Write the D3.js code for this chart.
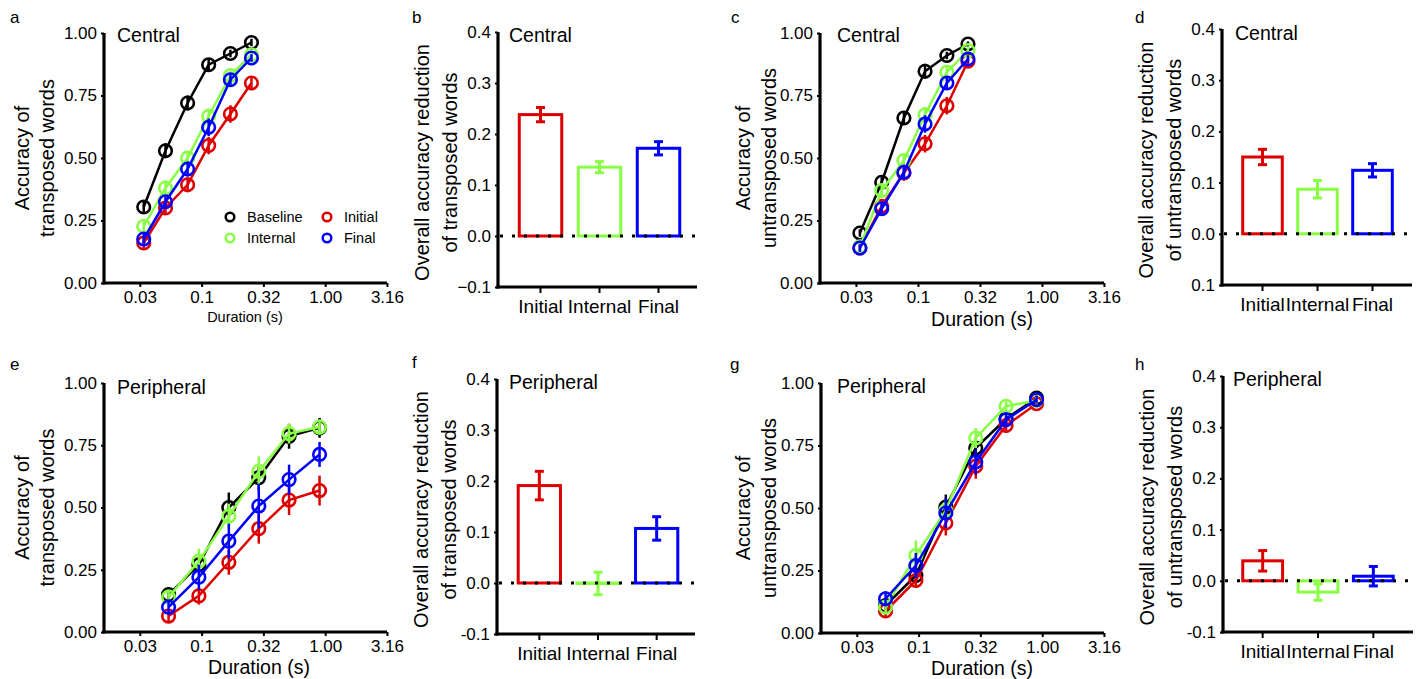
<!DOCTYPE html>
<html><head><meta charset="utf-8">
<script src="https://cdn.jsdelivr.net/npm/d3@7"></script>
<style>body{margin:0;background:#fff} text{font-family:"Liberation Sans",Arial,Helvetica,sans-serif;fill:#000}</style>
</head><body><svg id="c" width="1418" height="679"></svg>
<script>
// ---------- DATA ----------
const seriesNames = ["Baseline","Initial","Internal","Final"];
const seriesColors = ["#000000","#dd0000","#88ff44","#0000ff"];
const legendOrder = ["Baseline","Initial","Internal","Final"];

const xTickValues = [0.0316,0.1,0.316,1,3.16];
const xTickLabels = ["0.03","0.1","0.32","1.00","3.16"];
const accTickValues = [0,0.25,0.5,0.75,1];
const accTickLabels = ["0.00","0.25","0.50","0.75","1.00"];

const durCentral = [0.034,0.051,0.077,0.114,0.171,0.253];
const durPeripheral = [0.054,0.095,0.166,0.29,0.51,0.90];

// panel a: central, transposed
const aBaseline = [0.304,0.529,0.720,0.873,0.918,0.962];
const aInitial  = [0.160,0.300,0.393,0.550,0.676,0.800];
const aInternal = [0.227,0.380,0.500,0.667,0.830,0.913];
const aFinal    = [0.176,0.325,0.456,0.623,0.813,0.900];
const aBaselineErr = [0.02,0.03,0.03,0.025,0.015,0.015];
const aInitialErr  = [0.02,0.025,0.03,0.035,0.035,0.02];
const aInternalErr = [0.02,0.03,0.025,0.03,0.02,0.015];
const aFinalErr    = [0.02,0.02,0.03,0.035,0.02,0.015];

// panel c: central, untransposed
const cBaseline = [0.200,0.403,0.660,0.847,0.910,0.956];
const cInitial  = [0.140,0.307,0.440,0.557,0.709,0.887];
const cInternal = [0.145,0.370,0.490,0.673,0.843,0.930];
const cFinal    = [0.140,0.297,0.443,0.636,0.800,0.896];
const cBaselineErr = [0.015,0.02,0.025,0.03,0.015,0.01];
const cInitialErr  = [0.015,0.02,0.03,0.035,0.035,0.015];
const cInternalErr = [0.015,0.025,0.03,0.03,0.02,0.015];
const cFinalErr    = [0.015,0.02,0.03,0.035,0.025,0.015];

// panel e: peripheral, transposed
const eBaseline = [0.150,0.270,0.500,0.620,0.786,0.820];
const eInitial  = [0.064,0.145,0.280,0.415,0.530,0.568];
const eInternal = [0.140,0.285,0.465,0.645,0.797,0.823];
const eFinal    = [0.100,0.220,0.365,0.506,0.612,0.713];
const eBaselineErr = [0.03,0.03,0.06,0.05,0.05,0.04];
const eInitialErr  = [0.025,0.035,0.05,0.06,0.06,0.06];
const eInternalErr = [0.03,0.05,0.05,0.06,0.04,0.03];
const eFinalErr    = [0.03,0.05,0.07,0.09,0.06,0.05];

// panel g: peripheral, untransposed
const gBaseline = [0.110,0.230,0.504,0.740,0.857,0.940];
const gInitial  = [0.088,0.210,0.440,0.667,0.830,0.917];
const gInternal = [0.104,0.310,0.490,0.780,0.907,0.930];
const gFinal    = [0.137,0.270,0.480,0.684,0.853,0.933];
const gBaselineErr = [0.02,0.03,0.05,0.04,0.03,0.015];
const gInitialErr  = [0.02,0.03,0.05,0.05,0.03,0.015];
const gInternalErr = [0.02,0.06,0.04,0.04,0.02,0.015];
const gFinalErr    = [0.03,0.05,0.06,0.05,0.03,0.015];

// bar panels
const barCats = ["Initial","Internal","Final"];
const barColors = ["#dd0000","#88ff44","#0000ff"];
const redTickValues = [-0.1,0,0.1,0.2,0.3,0.4];
const bTickLabels = ["\u22120.1","0.0","0.1","0.2","0.3","0.4"];
const dTickLabels = ["0.1","0.0","0.1","0.2","0.3","0.4"];
const fTickLabels = ["-0.1","0.0","0.1","0.2","0.3","0.4"];
const hTickLabels = ["-0.1","0.0","0.1","0.2","0.3","0.4"];
const bValues = [0.238,0.135,0.172];  const bErr = [0.014,0.011,0.013];
const dValues = [0.150,0.087,0.124];  const dErr = [0.015,0.017,0.013];
const fValues = [0.191,-0.001,0.107]; const fErr = [0.028,0.022,0.023];
const hValues = [0.039,-0.022,0.009]; const hErr = [0.020,0.016,0.019];

// ---------- DRAWING ----------
const svg = d3.select("#c");
const FONT_TICK = 17, FONT_LAB = 20;

function letter(t,x,y){ svg.append("text").attr("x",x).attr("y",y).attr("font-size",17).text(t); }

function linePanel(cfg){
  const g = svg.append("g");
  const x = d3.scaleLog().domain([Math.pow(10,-1.79), Math.pow(10,0.5)]).range([cfg.x0,cfg.x1]);
  const y = d3.scaleLinear().domain([0,1]).range([cfg.yBot,cfg.yTop]);
  const ya = d3.axisLeft(y).tickValues(accTickValues).tickFormat((d,i)=>accTickLabels[i]).tickSize(3).tickPadding(4);
  const yg = g.append("g").attr("transform",`translate(${cfg.x0},0)`).call(ya);
  const xa = d3.axisBottom(x).tickValues(xTickValues).tickFormat((d,i)=>xTickLabels[i]).tickSize(4).tickPadding(3);
  const xg = g.append("g").attr("transform",`translate(0,${cfg.yBot})`).call(xa);
  [yg,xg].forEach(a=>{
    a.select(".domain").attr("stroke","#000").attr("stroke-width",3.2);
    a.selectAll(".tick line").attr("stroke","#000").attr("stroke-width",2);
    a.selectAll(".tick text").attr("font-size",FONT_TICK).attr("font-family","Liberation Sans, Arial, sans-serif").attr("fill","#000");
  });
  yg.select(".domain").attr("d",`M0,${cfg.yTop}V${cfg.yBot+1.5}`);
  xg.select(".domain").attr("d",`M${cfg.x0-1.5},0H${cfg.x1}`);
  xg.selectAll(".tick text").attr("dy","0.76em");
  cfg.series.forEach((s,si)=>{
    const col = seriesColors[si];
    const pts = cfg.dur.map((d,i)=>({x:d,y:s.v[i],e:s.e[i]}));
    g.append("path").datum(pts).attr("fill","none").attr("stroke",col).attr("stroke-width",2.5)
      .attr("d",d3.line().x(d=>x(d.x)).y(d=>y(d.y)));
    g.selectAll(null).data(pts).enter().append("line")
      .attr("x1",d=>x(d.x)).attr("x2",d=>x(d.x)).attr("y1",d=>y(d.y-d.e)).attr("y2",d=>y(d.y+d.e))
      .attr("stroke",col).attr("stroke-width",2.5);
    g.selectAll(null).data(pts).enter().append("circle")
      .attr("cx",d=>x(d.x)).attr("cy",d=>y(d.y)).attr("r",6.3)
      .attr("fill","none").attr("stroke",col).attr("stroke-width",2.6);
  });
  g.append("text").attr("x",cfg.titleX).attr("y",cfg.titleY).attr("font-size",19.5).text(cfg.title);
  const cy = (cfg.yTop+cfg.yBot)/2;
  cfg.ylab.forEach((t,i)=>{
    g.append("text").attr("transform",`translate(${cfg.ylabX[i]},${cy}) rotate(-90)`)
      .attr("text-anchor","middle").attr("font-size",FONT_LAB).text(t);
  });
  g.append("text").attr("x",cfg.xlabX).attr("y",cfg.xlabY).attr("text-anchor","middle")
    .attr("font-size",cfg.xlabSize).text("Duration (s)");
  return {g,x,y};
}

function mk(v,e){ return {v,e}; }

linePanel({x0:104,x1:387,yTop:33,yBot:283,dur:durCentral,
  series:[mk(aBaseline,aBaselineErr),mk(aInitial,aInitialErr),mk(aInternal,aInternalErr),mk(aFinal,aFinalErr)],
  title:"Central",titleX:117,titleY:42,ylab:["Accuracy of","transposed words"],ylabX:[29,54],
  xlabX:245,xlabY:322,xlabSize:14.5});
linePanel({x0:820,x1:1104,yTop:33,yBot:283,dur:durCentral,
  series:[mk(cBaseline,cBaselineErr),mk(cInitial,cInitialErr),mk(cInternal,cInternalErr),mk(cFinal,cFinalErr)],
  title:"Central",titleX:837,titleY:42,ylab:["Accuracy of","untransposed words"],ylabX:[750,776],
  xlabX:982,xlabY:326,xlabSize:19.5});
linePanel({x0:104,x1:387,yTop:383,yBot:632,dur:durPeripheral,
  series:[mk(eBaseline,eBaselineErr),mk(eInitial,eInitialErr),mk(eInternal,eInternalErr),mk(eFinal,eFinalErr)],
  title:"Peripheral",titleX:117,titleY:394,ylab:["Accuracy of","transposed words"],ylabX:[29,54],
  xlabX:259,xlabY:674,xlabSize:19.5});
linePanel({x0:821,x1:1104,yTop:383,yBot:633,dur:durPeripheral,
  series:[mk(gBaseline,gBaselineErr),mk(gInitial,gInitialErr),mk(gInternal,gInternalErr),mk(gFinal,gFinalErr)],
  title:"Peripheral",titleX:837,titleY:393,ylab:["Accuracy of","untransposed words"],ylabX:[750,776],
  xlabX:982,xlabY:675,xlabSize:19.5});

// legend in panel a
const legPos = {Baseline:[230,217],Internal:[230,238],Initial:[327,217],Final:[327,238]};
legendOrder.forEach(n=>{
  const i = seriesNames.indexOf(n);
  const [lx,ly] = legPos[n];
  svg.append("circle").attr("cx",lx).attr("cy",ly).attr("r",4.3).attr("fill","none")
    .attr("stroke",seriesColors[i]).attr("stroke-width",2.5);
  svg.append("text").attr("x",lx+17).attr("y",ly+5).attr("font-size",14.5).text(n);
});

function barPanel(cfg){
  const g = svg.append("g");
  const y = d3.scaleLinear().domain([-0.1,0.4]).range([cfg.yBot,cfg.yTop]);
  const x = d3.scaleBand().domain(barCats).range([cfg.b0,cfg.b1]).paddingInner(0.28).paddingOuter(0.14);
  const ya = d3.axisLeft(y).tickValues(redTickValues).tickFormat((d,i)=>cfg.labels[i]).tickSize(3).tickPadding(4);
  const yg = g.append("g").attr("transform",`translate(${cfg.x0},0)`).call(ya);
  const xa = d3.axisBottom(x).tickSize(6).tickPadding(6);
  const xg = g.append("g").attr("transform",`translate(0,${cfg.yBot})`).call(xa);
  [yg,xg].forEach(a=>{
    a.select(".domain").attr("stroke","#000").attr("stroke-width",3.2);
    a.selectAll(".tick line").attr("stroke","#000").attr("stroke-width",2);
    a.selectAll(".tick text").attr("font-family","Liberation Sans, Arial, sans-serif").attr("fill","#000");
  });
  yg.selectAll(".tick text").attr("font-size",FONT_TICK);
  xg.selectAll(".tick text").attr("font-size",19).attr("dy","0.74em");
  yg.select(".domain").attr("d",`M0,${cfg.yTop}V${cfg.yBot+1.5}`);
  xg.select(".domain").attr("d",`M${cfg.x0-1.5},0H${cfg.x1}`);
  const data = barCats.map((c,i)=>({c,v:cfg.values[i],e:cfg.err[i],col:barColors[i]}));
  g.selectAll(null).data(data).enter().append("rect")
    .attr("x",d=>x(d.c)).attr("width",x.bandwidth())
    .attr("y",d=>Math.min(y(d.v),y(0))).attr("height",d=>Math.max(Math.abs(y(d.v)-y(0)),0.01))
    .attr("fill","none").attr("stroke",d=>d.col).attr("stroke-width",3);
  const cap = 4.5;
  data.forEach(d=>{
    const cx = x(d.c)+x.bandwidth()/2;
    g.append("line").attr("x1",cx).attr("x2",cx).attr("y1",y(d.v-d.e)).attr("y2",y(d.v+d.e)).attr("stroke",d.col).attr("stroke-width",3);
    [d.v-d.e,d.v+d.e].forEach(t=>g.append("line").attr("x1",cx-cap).attr("x2",cx+cap).attr("y1",y(t)).attr("y2",y(t)).attr("stroke",d.col).attr("stroke-width",3));
  });
  g.append("line").attr("x1",cfg.x0+2).attr("x2",cfg.x1).attr("y1",y(0)).attr("y2",y(0))
    .attr("stroke","#000").attr("stroke-width",3).attr("stroke-dasharray","3,9");
  g.append("text").attr("x",cfg.titleX).attr("y",cfg.titleY).attr("font-size",19.5).text(cfg.title);
  const cy = (cfg.yTop+cfg.yBot)/2+3;
  cfg.ylab.forEach((t,i)=>{
    g.append("text").attr("transform",`translate(${cfg.x0+[-69,-41][i]},${cy}) rotate(-90)`)
      .attr("text-anchor","middle").attr("font-size",FONT_LAB).text(t);
  });
}

barPanel({x0:498,x1:697,b0:511,b1:688,yTop:32,yBot:287,labels:bTickLabels,values:bValues,err:bErr,
  title:"Central",titleX:509,titleY:42,ylab:["Overall accuracy reduction","of transposed words"]});
barPanel({x0:1222,x1:1412,b0:1235,b1:1400,yTop:29,yBot:285,labels:dTickLabels,values:dValues,err:dErr,
  title:"Central",titleX:1235,titleY:40,ylab:["Overall accuracy reduction","of untransposed words"]});
barPanel({x0:497,x1:695,b0:510,b1:686,yTop:379,yBot:634,labels:fTickLabels,values:fValues,err:fErr,
  title:"Peripheral",titleX:509,titleY:389,ylab:["Overall accuracy reduction","of transposed words"]});
barPanel({x0:1223,x1:1413,b0:1235,b1:1401,yTop:376,yBot:632,labels:hTickLabels,values:hValues,err:hErr,
  title:"Peripheral",titleX:1233,titleY:386,ylab:["Overall accuracy reduction","of untransposed words"]});

letter("a",10,23); letter("b",412,23); letter("c",731,23); letter("d",1135,23);
letter("e",10,370); letter("f",412,368); letter("g",730,370); letter("h",1135,370);
</script></body></html>
